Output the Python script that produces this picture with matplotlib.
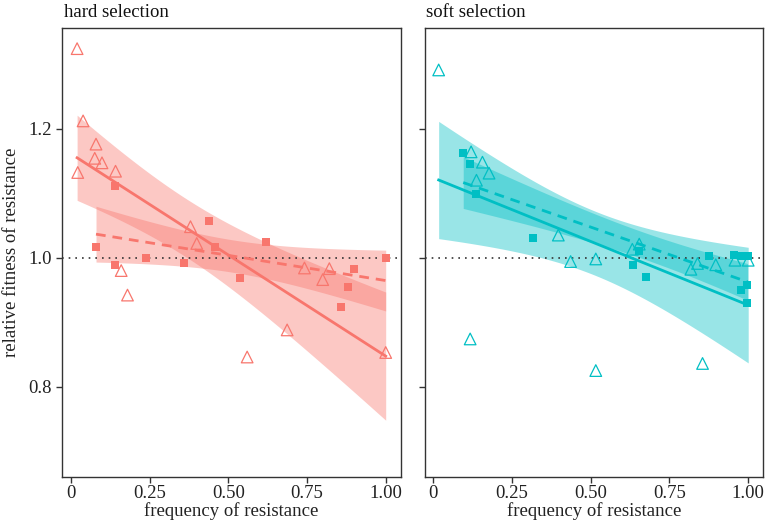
import numpy as np
import matplotlib
matplotlib.use("Agg")
import matplotlib.pyplot as plt

# ---------------- data ----------------
panels = ["hard selection", "soft selection"]

hard_tri_x = [0.02, 0.039, 0.022, 0.08, 0.076, 0.099, 0.142, 0.16, 0.18, 0.38, 0.40,
              0.56, 0.687, 0.742, 0.80, 0.821, 1.0]
hard_tri_y = [1.324, 1.212, 1.132, 1.176, 1.154, 1.147, 1.134, 0.980, 0.942, 1.048, 1.022,
              0.846, 0.888, 0.984, 0.966, 0.983, 0.853]

hard_sq_x = [0.08, 0.139, 0.139, 0.239, 0.36, 0.439, 0.458, 0.538, 0.62, 0.859, 0.88,
             0.898, 1.0]
hard_sq_y = [1.017, 1.111, 0.988, 1.000, 0.991, 1.057, 1.016, 0.969, 1.025, 0.923, 0.955,
             0.983, 1.000]

soft_tri_x = [0.017, 0.12, 0.156, 0.177, 0.137, 0.117, 0.397, 0.436, 0.516, 0.516, 0.632,
              0.654, 0.818, 0.839, 0.855, 0.897, 0.958, 1.0]
soft_tri_y = [1.291, 1.164, 1.148, 1.131, 1.120, 0.874, 1.035, 0.994, 0.998, 0.825, 1.013,
              1.021, 0.982, 0.991, 0.836, 0.989, 0.996, 0.996]

soft_sq_x = [0.095, 0.116, 0.135, 0.317, 0.633, 0.654, 0.675, 0.876, 0.956, 0.977, 0.998,
             0.977, 0.996, 0.996]
soft_sq_y = [1.162, 1.145, 1.099, 1.031, 0.988, 1.011, 0.970, 1.003, 1.004, 1.003, 1.002,
             0.950, 0.957, 0.929]

x_ticks = [0, 0.25, 0.5, 0.75, 1.0]
x_tick_labels = ["0", "0.25", "0.50", "0.75", "1.00"]
y_ticks = [0.8, 1.0, 1.2]
y_tick_labels = ["0.8", "1.0", "1.2"]

colors = {"hard selection": "#F8766D", "soft selection": "#00BFC4"}
data = {
    "hard selection": ((hard_tri_x, hard_tri_y), (hard_sq_x, hard_sq_y)),
    "soft selection": ((soft_tri_x, soft_tri_y), (soft_sq_x, soft_sq_y)),
}

# ---------------- helpers ----------------
def t_cdf(t, df):
    from math import gamma, pi, sqrt
    xs = np.linspace(0, t, 4001)
    c = gamma((df + 1) / 2) / (sqrt(df * pi) * gamma(df / 2))
    pdf = c * (1 + xs ** 2 / df) ** (-(df + 1) / 2)
    return 0.5 + np.trapezoid(pdf, xs)

def t_quant(p, df):
    lo, hi = 0.0, 20.0
    for _ in range(60):
        mid = (lo + hi) / 2
        if t_cdf(mid, df) < p:
            lo = mid
        else:
            hi = mid
    return (lo + hi) / 2

def lm_fit(x, y, n_grid=80):
    x = np.asarray(x, float)
    y = np.asarray(y, float)
    n = len(x)
    b, a = np.polyfit(x, y, 1)
    resid = y - (a + b * x)
    s = np.sqrt(np.sum(resid ** 2) / (n - 2))
    xm = x.mean()
    sxx = np.sum((x - xm) ** 2)
    xg = np.linspace(x.min(), x.max(), n_grid)
    yg = a + b * xg
    se = s * np.sqrt(1 / n + (xg - xm) ** 2 / sxx)
    tq = t_quant(0.975, n - 2)
    return xg, yg, yg - tq * se, yg + tq * se

# ---------------- figure ----------------
plt.rcParams["font.family"] = ["Liberation Serif", "DejaVu Serif"]
fig = plt.figure(figsize=(7.71, 5.23), dpi=100)

top_px, bot_px = 28, 477
ax_pos = [
    [62 / 771, 1 - bot_px / 523, (400.5 - 62) / 771, (bot_px - top_px) / 523],
    [424.5 / 771, 1 - bot_px / 523, (763 - 424.5) / 771, (bot_px - top_px) / 523],
]
spine_col = "#333333"
fs = 13.5

for i, name in enumerate(panels):
    ax = fig.add_axes(ax_pos[i])
    col = colors[name]
    (tx, ty), (sx, sy) = data[name]

    for (xx, yy), ls in (((tx, ty), "-"), ((sx, sy), "--")):
        xg, yg, lo, hi = lm_fit(xx, yy)
        ax.fill_between(xg, lo, hi, color=col, alpha=0.4, linewidth=0, zorder=1)
        if ls == "--":
            ax.plot(xg, yg, color=col, lw=2.0, zorder=3, dashes=(3.5, 2.5))
        else:
            ax.plot(xg, yg, color=col, lw=2.0, zorder=3)

    ax.axhline(1.0, color="#333333", lw=1.2, ls=(0, (1, 3)), zorder=2)

    ax.scatter(tx, ty, marker="^", s=70, facecolors="none", edgecolors=col,
               linewidths=0.9, zorder=4)
    ax.scatter(sx, sy, marker="s", s=36, color=col, linewidths=0, zorder=4)

    ax.set_xlim(-0.028, 1.047)
    ax.set_ylim(0.66, 1.356)
    ax.set_xticks(x_ticks)
    ax.set_xticklabels(x_tick_labels)
    ax.set_yticks(y_ticks)
    if i == 0:
        ax.set_yticklabels(y_tick_labels)
        ax.set_ylabel("relative fitness of resistance", fontsize=fs, color="#222222",
                      labelpad=6)
    else:
        ax.set_yticklabels([])
        ax.tick_params(axis="y", length=0)
    ax.set_xlabel("frequency of resistance", fontsize=fs, color="#222222", labelpad=0)
    ax.tick_params(axis="both", labelsize=fs, colors="#222222", length=4,
                   width=1, direction="out", color=spine_col)
    ax.tick_params(axis="x", pad=2)
    for sp in ax.spines.values():
        sp.set_color(spine_col)
        sp.set_linewidth(1.0)
    ax.text(0.005, 1.024, name, transform=ax.transAxes, fontsize=fs,
            ha="left", va="baseline", color="#111111")

fig.savefig("out.png", dpi=100)
